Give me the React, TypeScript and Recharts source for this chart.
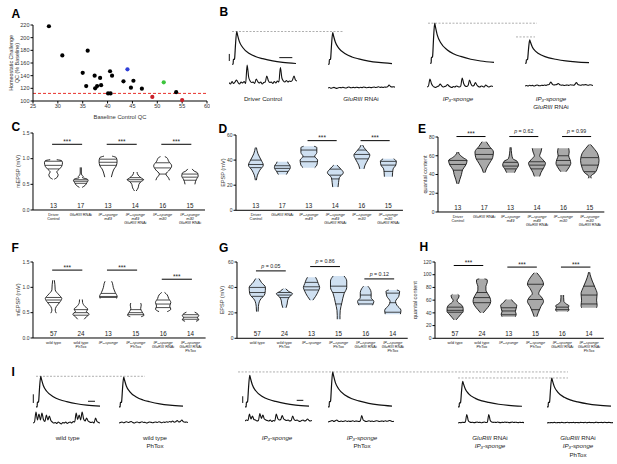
import React from 'react';
import {
  ScatterChart,
  Scatter,
  LineChart,
  Line,
  ComposedChart,
  Area,
  XAxis,
  YAxis,
  ReferenceLine,
} from 'recharts';

const FONT = '"Liberation Sans", Arial, Helvetica, sans-serif';
const INK = '#222';

/* ---------------- A: homeostatic challenge vs baseline QC ---------------- */
const qcBlack = [
  { base: 28.2, challenge: 218 },
  { base: 30.9, challenge: 172 },
  { base: 36.0, challenge: 179.5 },
  { base: 35.0, challenge: 144.5 },
  { base: 35.7, challenge: 123.5 },
  { base: 37.4, challenge: 140 },
  { base: 37.5, challenge: 120 },
  { base: 37.9, challenge: 123.5 },
  { base: 38.5, challenge: 136.5 },
  { base: 38.7, challenge: 125 },
  { base: 40.5, challenge: 147 },
  { base: 40.9, challenge: 140 },
  { base: 40.1, challenge: 112 },
  { base: 40.6, challenge: 112 },
  { base: 43.2, challenge: 131 },
  { base: 45.2, challenge: 132 },
  { base: 44.7, challenge: 121 },
  { base: 46.9, challenge: 119.5 },
  { base: 53.8, challenge: 114 },
];
const qcBlue = [{ base: 44.0, challenge: 150 }];
const qcGreen = [{ base: 51.3, challenge: 129.5 }];
const qcRed = [
  { base: 49.0, challenge: 106.5 },
  { base: 55.0, challenge: 101.5 },
];
const qcThreshold = 112;
const qcXTicks = [25, 30, 35, 40, 45, 50, 55, 60];
const qcYTicks = [100, 120, 140, 160, 180, 200, 220];

/* ---------------- violin panels C-H ---------------- */
type Violin = { shape: [number, number][]; lines: number[] };
type Sig = { from: number; to: number; at: number; text: string };

const catsRow1 = [
  ['Driver', 'Control'],
  ['GluRIII RNAi'],
  ['IP₃-sponge', 'm49'],
  ['IP₃-sponge', 'm49', 'GluRIII RNAi'],
  ['IP₃-sponge', 'm30'],
  ['IP₃-sponge', 'm30', 'GluRIII RNAi'],
];
const catsRow2 = [
  ['wild type'],
  ['wild type', 'PhTox'],
  ['IP₃-sponge'],
  ['IP₃-sponge', 'PhTox'],
  ['IP₃-sponge', 'GluRIII RNAi'],
  ['IP₃-sponge', 'GluRIII RNAi', 'PhTox'],
];
const countsRow1 = [13, 17, 13, 14, 16, 15];
const countsRow2 = [57, 24, 13, 15, 16, 14];

// shape: [value, half width in category units]
const mepspRow1: Violin[] = [
  { shape: [[0.6, 0.03], [0.64, 0.14], [0.69, 0.17], [0.74, 0.12], [0.79, 0.2], [0.85, 0.3], [0.92, 0.33], [0.96, 0.3], [0.98, 0.12]], lines: [0.8, 0.87, 0.95] },
  { shape: [[0.44, 0.05], [0.48, 0.16], [0.53, 0.22], [0.58, 0.27], [0.61, 0.2], [0.63, 0.06], [0.65, 0.09], [0.68, 0.04], [0.72, 0.02], [0.83, 0.02]], lines: [0.52, 0.56, 0.59] },
  { shape: [[0.64, 0.12], [0.72, 0.16], [0.8, 0.22], [0.86, 0.3], [0.95, 0.33], [1.02, 0.3], [1.05, 0.15]], lines: [0.87, 0.93, 0.99] },
  { shape: [[0.37, 0.03], [0.43, 0.1], [0.5, 0.13], [0.55, 0.2], [0.59, 0.3], [0.63, 0.2], [0.68, 0.1], [0.74, 0.06]], lines: [0.55, 0.59, 0.63] },
  { shape: [[0.58, 0.25], [0.62, 0.22], [0.7, 0.12], [0.78, 0.25], [0.86, 0.33], [0.95, 0.22], [1.02, 0.15], [1.04, 0.08]], lines: [0.7, 0.82, 0.92] },
  { shape: [[0.5, 0.18], [0.55, 0.2], [0.6, 0.24], [0.66, 0.3], [0.72, 0.28], [0.76, 0.15], [0.8, 0.08]], lines: [0.58, 0.64, 0.7] },
];
const epspRow1: Violin[] = [
  { shape: [[24, 0.02], [28, 0.06], [32, 0.15], [36, 0.28], [40, 0.2], [45, 0.08], [50, 0.02]], lines: [34, 36.5, 40] },
  { shape: [[28.5, 0.15], [31, 0.22], [34, 0.3], [36, 0.28], [37.5, 0.22], [38.7, 0.2]], lines: [31, 33.4, 35.5] },
  { shape: [[34, 0.22], [36, 0.3], [40, 0.33], [43, 0.22], [46, 0.3], [50, 0.3], [51, 0.2]], lines: [38.7, 42.6, 48] },
  { shape: [[18.5, 0.1], [22, 0.12], [26, 0.15], [30, 0.3], [33, 0.2], [36, 0.06]], lines: [25, 28, 32.8] },
  { shape: [[33, 0.08], [36, 0.12], [40, 0.22], [44, 0.3], [47, 0.2], [50, 0.08], [52, 0.03]], lines: [41, 44.5, 48] },
  { shape: [[26.8, 0.15], [30, 0.16], [33, 0.18], [36, 0.28], [39, 0.3], [41, 0.2]], lines: [31, 36, 39] },
];
const qcRow1: Violin[] = [
  { shape: [[30, 0.03], [35, 0.08], [40, 0.14], [45, 0.18], [50, 0.3], [55, 0.35], [58, 0.2], [62, 0.05], [64, 0.03]], lines: [44.6, 50.7, 55] },
  { shape: [[42, 0.03], [46, 0.08], [52, 0.2], [58, 0.32], [64, 0.35], [70, 0.2], [75, 0.08]], lines: [56.4, 61.4, 67.8] },
  { shape: [[42, 0.15], [45, 0.2], [50, 0.3], [54, 0.25], [57, 0.08], [62, 0.04], [69, 0.02]], lines: [46, 49, 53] },
  { shape: [[38, 0.1], [42, 0.15], [47, 0.25], [52, 0.32], [57, 0.18], [60, 0.1], [64, 0.15], [68, 0.18]], lines: [46, 50, 53.6] },
  { shape: [[43, 0.1], [47, 0.2], [52, 0.28], [56, 0.25], [60, 0.2], [64, 0.22], [68, 0.2]], lines: [50, 55, 60] },
  { shape: [[36, 0.06], [38, 0.04], [42, 0.2], [48, 0.3], [55, 0.35], [62, 0.3], [68, 0.15], [72, 0.03]], lines: [43, 50, 58] },
];
const mepspRow2: Violin[] = [
  { shape: [[0.49, 0.1], [0.55, 0.06], [0.62, 0.1], [0.7, 0.22], [0.78, 0.3], [0.85, 0.2], [0.95, 0.06], [1.05, 0.05], [1.14, 0.03]], lines: [0.7, 0.75, 0.8] },
  { shape: [[0.37, 0.12], [0.42, 0.2], [0.47, 0.3], [0.52, 0.2], [0.57, 0.25], [0.62, 0.15], [0.7, 0.06], [0.76, 0.05]], lines: [0.45, 0.5, 0.56] },
  { shape: [[0.78, 0.3], [0.82, 0.32], [0.9, 0.25], [1.0, 0.18], [1.08, 0.15], [1.12, 0.12]], lines: [0.8, 0.82, 0.88] },
  { shape: [[0.42, 0.2], [0.45, 0.3], [0.5, 0.25], [0.58, 0.18], [0.65, 0.2], [0.69, 0.18]], lines: [0.46, 0.5, 0.56] },
  { shape: [[0.52, 0.15], [0.57, 0.28], [0.63, 0.24], [0.7, 0.28], [0.78, 0.2], [0.85, 0.15], [0.9, 0.05]], lines: [0.6, 0.67, 0.75] },
  { shape: [[0.33, 0.2], [0.36, 0.3], [0.4, 0.25], [0.44, 0.3], [0.48, 0.25], [0.51, 0.15]], lines: [0.37, 0.41, 0.46] },
];
const epspRow2: Violin[] = [
  { shape: [[21, 0.03], [25, 0.04], [30, 0.1], [35, 0.28], [40, 0.3], [44, 0.15], [47, 0.06]], lines: [33, 36, 40] },
  { shape: [[24, 0.06], [27, 0.1], [30, 0.12], [33, 0.2], [35, 0.3], [37, 0.15], [39, 0.05]], lines: [32, 34, 36] },
  { shape: [[30, 0.05], [33, 0.15], [37, 0.25], [40, 0.3], [43, 0.25], [46, 0.2], [48, 0.15]], lines: [38, 40.5, 44] },
  { shape: [[15, 0.05], [18, 0.05], [22, 0.06], [28, 0.12], [35, 0.2], [40, 0.3], [45, 0.3], [49, 0.2]], lines: [27, 36, 41] },
  { shape: [[26, 0.25], [29, 0.3], [32, 0.2], [36, 0.2], [39, 0.15], [41, 0.08]], lines: [27, 30, 34] },
  { shape: [[19, 0.28], [22, 0.3], [26, 0.15], [29, 0.1], [33, 0.22], [37, 0.25], [38, 0.15]], lines: [20.5, 28, 35.5] },
];
const qcRow2: Violin[] = [
  { shape: [[29, 0.04], [33, 0.12], [38, 0.22], [42, 0.3], [47, 0.3], [52, 0.25], [57, 0.1], [60, 0.07], [63, 0.12], [67, 0.15], [69, 0.1]], lines: [41, 44, 49] },
  { shape: [[40, 0.05], [45, 0.15], [52, 0.28], [58, 0.33], [64, 0.3], [70, 0.22], [76, 0.15], [82, 0.15], [88, 0.2], [92, 0.2], [93.5, 0.1]], lines: [56, 64, 72] },
  { shape: [[34, 0.25], [38, 0.28], [42, 0.25], [47, 0.28], [52, 0.3], [56, 0.2], [61, 0.1]], lines: [37, 43, 48] },
  { shape: [[34, 0.05], [40, 0.1], [50, 0.2], [58, 0.3], [65, 0.22], [70, 0.12], [78, 0.2], [85, 0.3], [95, 0.2], [103, 0.05]], lines: [45, 61, 85] },
  { shape: [[42, 0.2], [45, 0.25], [48, 0.22], [51, 0.25], [54, 0.15], [58, 0.06], [64, 0.05], [68, 0.05]], lines: [45, 49] },
  { shape: [[48, 0.28], [52, 0.3], [60, 0.28], [70, 0.3], [80, 0.22], [90, 0.12], [100, 0.04], [104, 0.02]], lines: [54, 68, 82] },
];

const sigC: Sig[] = [
  { from: 0, to: 1, at: 1.28, text: '***' },
  { from: 2, to: 3, at: 1.28, text: '***' },
  { from: 4, to: 5, at: 1.28, text: '***' },
];
const sigD: Sig[] = [
  { from: 2, to: 3, at: 55.5, text: '***' },
  { from: 4, to: 5, at: 55.5, text: '***' },
];
const sigE: Sig[] = [
  { from: 0, to: 1, at: 80.5, text: '***' },
  { from: 2, to: 3, at: 80.5, text: 'p = 0.62' },
  { from: 4, to: 5, at: 80.5, text: 'p = 0.99' },
];
const sigF: Sig[] = [
  { from: 0, to: 1, at: 1.34, text: '***' },
  { from: 2, to: 3, at: 1.34, text: '***' },
  { from: 4, to: 5, at: 1.16, text: '***' },
];
const sigG: Sig[] = [
  { from: 0, to: 1, at: 53, text: 'p = 0.05' },
  { from: 2, to: 3, at: 56.4, text: 'p = 0.86' },
  { from: 4, to: 5, at: 46.7, text: 'p = 0.12' },
];
const sigH: Sig[] = [
  { from: 0, to: 1, at: 114.5, text: '***' },
  { from: 2, to: 3, at: 112, text: '***' },
  { from: 4, to: 5, at: 112, text: '***' },
];

const mepspTicks = [0, 0.5, 1.0, 1.5];
const epspTicks = [0, 20, 40, 60];
const qcTicksRow1 = [0, 20, 40, 60, 80];
const qcTicksRow2 = [0, 20, 40, 60, 80, 100, 120];

/* ---------------- traces B and I ---------------- */
const epspTimes = [0, 1.2, 1.3, 2.5, 2.7, 3.5, 4.7, 5.5, 7.3, 10.7, 17.3, 24, 30.7, 40.7, 50.7, 64];
const epspShape = [0, 0, 0.15, 0.15, 0.2, 0.6, 1, 0.9, 0.7, 0.51, 0.33, 0.23, 0.17, 0.1, 0.056, 0.022];

const epspAmpB = [37.2, 36.0, 45.5, 26.5];
const bShortDash = 29.9;
const epspAmpI = [35.9, 35.0, 37.0, 41.0, 30.0, 33.9];

const miniDriver = [0.05, -0.1, 0.15, -0.05, 0.1, 0.3, 0.05, -0.1, 0.1, 0, 0.15, -0.05, 1.8, 0.6, 0.2, 0.05, 0.1, -0.05, 0.4, 0.15, 0, 0.1, -0.1, 0.05, 0.1, 0.7, 0.25, 0.05, 0.1, -0.05, 0.15, 0, 0.2, 0.1, 1.55, 0.5, 0.2, 0.1, 0.25, 0.1, 0.2, 0.15, 0.3, 0.7, 0.3, 0.2];
const miniGluRIII = [0, 0.05, -0.03, 0.02, 0.06, 0, -0.04, 0.03, 0.05, 0.02, 0.08, 0.03, 0, 0.05, 0.1, 0.04, 0.02, 0.06, 0.03, 0.08, 0.05, 0.02, 0.07, 0.04, 0.1, 0.06, 0.03, 0.05, 0.08, 0.04, 0.07, 0.1, 0.05, 0.08, 0.12, 0.06, 0.09, 0.05, 0.1, 0.08, 0.12, 0.3, 0.15, 0.1, 0.12, 0.08];
const miniSponge = [0, 0.1, 0.8, 0.35, 0.1, 0, -0.05, 0.05, 0.1, 0.3, 0.12, 0, 0.05, 0.1, 0.25, 0.1, 0, -0.05, 0.05, 0, 0.1, 0.05, 0, 0.1, 0.9, 0.35, 0.1, 0.05, 0.15, 0.7, 0.3, 0.1, 0.15, 0.45, 0.2, 0.05, 0, 0.1, 0.05, 0, 0.2, 0.1, 0, 0.05, 0.1, 0.05];
const miniSpongeGluRIII = [0, 0.05, 0, 0.08, 0.03, 0.06, 0, 0.05, 0.1, 0.04, 0.02, 0.07, 0.05, 0.1, 0.06, 0.12, 0.15, 0.4, 0.2, 0.1, 0.12, 0.15, 0.25, 0.12, 0.08, 0.1, 0.05, 0.08, 0.1, 0.06, 0.12, 0.1, 0.08, 0.15, 0.35, 0.15, 0.1, 0.08, 0.12, 0.1, 0.14, 0.1, 0.08, 0.12, 0.1, 0.05];

const miniWildType = [0, 0.1, 1.1, 0.3, 0.9, 0.3, 1.0, 0.35, 0.15, 0.8, 0.3, 0.7, 0.25, 0.1, 0, 0.05, -0.05, 0.1, 0, -0.1, 0.05, 0, 0.1, -0.05, 0.05, 0.1, 0, 0.15, 0.1, 1.0, 0.35, 0.8, 0.3, 1.1, 0.4, 0.2, 0.5, 0.2, 0.1, 0.05, 0.1, 0, 0.5, 0.15, 0.05, 0];
const miniWildTypePhTox = [0, 0.05, 0.1, 0.02, 0.08, 0.12, 0.05, 0.1, 0.15, 0.05, 0, 0.08, 0.1, 0.03, 0.06, 0.12, 0.05, 0.08, 0, 0.05, 0.1, 0.06, 0.02, 0.08, 0.1, 0.05, 0.12, 0.08, 0.03, 0.1, 0.06, 0.12, 0.08, 0.15, 0.1, 0.2, 0.08, 0.12, 0.25, 0.1, 0.15, 0.3, 0.12, 0.08, 0.1, 0.05];
const miniSpongeI = [0, 0.1, 0.05, 0.7, 0.2, 0.5, 0.15, 0.1, 0, 0.05, 0.75, 0.25, 0.6, 0.2, 0.1, 0.05, 0, 0.1, -0.05, 0.05, 0, 0.7, 0.25, 0.1, 0.15, 0.55, 0.2, 0.1, 0.05, 0.1, 0, 0.05, 0.5, 0.15, 0.05, 0.1, 0, -0.05, 0.05, 0.1, 0, 0.05, 0.2, 0.05, 0, 0.05];
const miniSpongePhTox = [0, 0.05, 0.1, 0.15, 0.05, 0.12, 0.2, 0.08, 0.05, 0.1, 0.05, 0.08, 0.12, 0.05, 0.1, 0.06, 0.08, 0.12, 0.05, 0.1, 0.08, 0.05, 0.1, 0.65, 0.2, 0.1, 0.05, 0.08, 0.12, 0.06, 0.1, 0.05, 0.08, 0.12, 0.1, 0.05, 0.08, 0.1, 0.06, 0.12, 0.08, 0.1, 0.15, 0.1, 0.05, 0.08];
const miniGluRIIISponge = [0, 0.05, 0.02, 0.08, 0.05, 0.1, 0.85, 0.25, 0.1, 0.05, 0.08, 0.04, 0.06, 0.1, 0.05, 0.08, 0.03, 0.06, 0.1, 0.05, 0.08, 0.85, 0.25, 0.1, 0.06, 0.08, 0.05, 0.1, 0.06, 0.04, 0.08, 0.05, 0.1, 0.06, 0.08, 0.04, 0.06, 0.1, 0.05, 0.08, 0.06, 0.04, 0.08, 0.05, 0.06, 0.04];
const miniGluRIIISpongePhTox = [0, 0.04, 0.02, 0.05, 0.03, 0.06, 0.02, 0.04, 0.05, 0.03, 0.06, 0.04, 0.02, 0.05, 0.07, 0.03, 0.05, 0.04, 0.06, 0.02, 0.05, 0.04, 0.03, 0.06, 0.05, 0.04, 0.07, 0.03, 0.05, 0.06, 0.04, 0.05, 0.03, 0.06, 0.08, 0.04, 0.05, 0.06, 0.04, 0.07, 0.05, 0.04, 0.06, 0.05, 0.03, 0.04];

/* ---------------- helpers ---------------- */
const ITALIC = new Set(['IP₃-sponge', 'GluRIII', 'm49', 'm30']);
function rich(line: string) {
  return line.split(' ').map((w, k) => (
    <tspan key={k} fontStyle={ITALIC.has(w) ? 'italic' : 'normal'}>
      {(k ? ' ' : '') + w}
    </tspan>
  ));
}

function widthAt(shape: [number, number][], y: number) {
  for (let k = 0; k < shape.length - 1; k++) {
    const [y0, w0] = shape[k];
    const [y1, w1] = shape[k + 1];
    if (y >= y0 && y <= y1) return w0 + ((w1 - w0) * (y - y0)) / (y1 - y0);
  }
  return shape[shape.length - 1][1];
}

const axisTitle = (lines: string[], dx: number, size: number) => (props: any) => {
  const vb = props.viewBox || { x: 0, y: 0, width: 0, height: 0 };
  const cx = vb.x + dx;
  const cy = vb.y + vb.height / 2;
  return (
    <text transform={`translate(${cx},${cy}) rotate(-90)`} textAnchor="middle" fontSize={size} fill="#333">
      {lines.map((l, i) => (
        <tspan key={i} x={0} y={(i - (lines.length - 1) / 2) * size * 1.2} dominantBaseline="central">
          {l}
        </tspan>
      ))}
    </text>
  );
};

function SigText(props: any) {
  const vb = props.viewBox || {};
  const cx = (vb.x ?? 0) + (vb.width ?? 0) / 2;
  const y = vb.y ?? 0;
  const text: string = props.text;
  if (text.startsWith('p')) {
    return (
      <text x={cx} y={y - 3.2} textAnchor="middle" fontSize={5.3} fill={INK}>
        <tspan fontStyle="italic">p</tspan>
        {text.slice(1)}
      </text>
    );
  }
  return (
    <text x={cx} y={y - 0.4} textAnchor="middle" fontSize={6.5} fill={INK}>
      {text}
    </text>
  );
}

function CatTick({ x, y, payload, counts, cats }: any) {
  const i = Math.round(payload?.value ?? 0);
  if (!cats[i]) return null;
  return (
    <g>
      <text x={x} y={y - 2} textAnchor="middle" fontSize={6.3} fill={INK}>
        {counts[i]}
      </text>
      {cats[i].map((line: string, k: number) => (
        <text key={k} x={x} y={y + 5.6 + k * 4.1} textAnchor="middle" fontSize={3.9} fill={INK}>
          {rich(line)}
        </text>
      ))}
    </g>
  );
}

const CAT_DOMAIN: [number, number] = [-0.75, 5.55];
const Y_W = 24;
const M_TOP = 14;
const X_H = 18;
const M_RIGHT = 2;

type Box = { axisX: number; top: number; bottom: number; step: number };

function ViolinPanel(props: {
  box: Box;
  violins: Violin[];
  fill: string;
  domain: [number, number];
  ticks: number[];
  fmt?: (v: number) => string;
  label: string;
  labelDx: number;
  counts: number[];
  cats: string[][];
  sigs: Sig[];
}) {
  const { box, violins, fill, domain, ticks, fmt, label, labelDx, counts, cats, sigs } = props;
  const plotW = box.step * (CAT_DOMAIN[1] - CAT_DOMAIN[0]);
  const width = Y_W + plotW + M_RIGHT;
  const height = M_TOP + (box.bottom - box.top) + X_H;
  return (
    <div style={{ position: 'absolute', left: box.axisX - Y_W, top: box.top - M_TOP }}>
      <ComposedChart
        layout="vertical"
        width={width}
        height={height}
        margin={{ top: M_TOP, right: M_RIGHT, bottom: 0, left: 0 }}
      >
        <XAxis
          type="number"
          domain={CAT_DOMAIN}
          ticks={[0, 1, 2, 3, 4, 5]}
          interval={0}
          allowDataOverflow
          height={X_H}
          stroke="#000"
          tickLine={false}
          tickSize={0}
          tickMargin={0}
          tick={(p: any) => <CatTick {...p} counts={counts} cats={cats} />}
        />
        <YAxis
          type="number"
          dataKey="y"
          reversed
          domain={domain}
          ticks={ticks}
          interval={0}
          allowDataOverflow
          width={Y_W}
          stroke="#000"
          tickSize={2.5}
          tickMargin={1}
          tick={{ fontSize: 5, fill: '#333' }}
          tickFormatter={fmt}
          label={{ content: axisTitle([label], labelDx, 5.6) }}
        />
        {violins.map((v, i) => (
          <Area
            key={`v${i}`}
            data={v.shape.map(([y, w]) => ({ y, span: [i - w, i + w] }))}
            dataKey="span"
            type="monotone"
            fill={fill}
            fillOpacity={1}
            stroke="#111"
            strokeWidth={0.9}
            dot={false}
            activeDot={false}
            isAnimationActive={false}
          />
        ))}
        {violins.flatMap((v, i) =>
          v.lines.map((q, k) => {
            const w = widthAt(v.shape, q);
            return (
              <ReferenceLine
                key={`q${i}-${k}`}
                segment={[
                  { x: i - w, y: q },
                  { x: i + w, y: q },
                ]}
                stroke="#111"
                strokeWidth={0.75}
                ifOverflow="visible"
              />
            );
          }),
        )}
        {sigs.map((s, k) => (
          <ReferenceLine
            key={`s${k}`}
            segment={[
              { x: s.from - 0.05, y: s.at },
              { x: s.to + 0.05, y: s.at },
            ]}
            stroke="#000"
            strokeWidth={1}
            ifOverflow="visible"
            label={<SigText text={s.text} />}
          />
        ))}
      </ComposedChart>
    </div>
  );
}

const epspRows = (amp: number) => epspTimes.map((t, k) => ({ t, v: epspShape[k] * amp }));
const miniRows = (vals: number[]) => vals.map((v, k) => ({ t: k, v }));

function Trace(props: {
  left: number;
  top: number;
  width: number;
  height: number;
  xDomain: [number, number];
  yDomain: [number, number];
  data: { t: number; v: number }[];
  strokeWidth: number;
  children?: React.ReactNode;
}) {
  const { left, top, width, height, xDomain, yDomain, data, strokeWidth, children } = props;
  return (
    <div style={{ position: 'absolute', left, top }}>
      <LineChart width={width} height={height} data={data} margin={{ top: 0, right: 0, bottom: 0, left: 0 }}>
        <XAxis type="number" dataKey="t" domain={xDomain} hide allowDataOverflow />
        <YAxis type="number" domain={yDomain} hide allowDataOverflow />
        {children}
        <Line
          dataKey="v"
          type="monotone"
          stroke="#111"
          strokeWidth={strokeWidth}
          dot={false}
          activeDot={false}
          isAnimationActive={false}
        />
      </LineChart>
    </div>
  );
}

const EPSP_Y: [number, number] = [-3, 48];
const MINI_X: [number, number] = [0, 45];
const dash = (y: number, x0: number, x1: number, key: string) => (
  <ReferenceLine
    key={key}
    segment={[
      { x: x0, y },
      { x: x1, y },
    ]}
    stroke="#9a9a9a"
    strokeWidth={0.8}
    strokeDasharray="2 1.5"
    ifOverflow="visible"
  />
);
const bar = (x0: number, y0: number, x1: number, y1: number, key: string) => (
  <ReferenceLine
    key={key}
    segment={[
      { x: x0, y: y0 },
      { x: x1, y: y1 },
    ]}
    stroke="#111"
    strokeWidth={1}
    ifOverflow="visible"
  />
);

function EpspTrace({ start, base, xDomain, amp, pxPerMv, children }: any) {
  return (
    <Trace
      left={start + xDomain[0]}
      top={base - EPSP_Y[1] * pxPerMv}
      width={xDomain[1] - xDomain[0]}
      height={(EPSP_Y[1] - EPSP_Y[0]) * pxPerMv}
      xDomain={xDomain}
      yDomain={EPSP_Y}
      data={epspRows(amp)}
      strokeWidth={1.2}
    >
      {children}
    </Trace>
  );
}

function MiniTrace({ left, base, width, vals, yDomain }: any) {
  return (
    <Trace
      left={left}
      top={base - yDomain[1] * 10}
      width={width}
      height={(yDomain[1] - yDomain[0]) * 10}
      xDomain={MINI_X}
      yDomain={yDomain}
      data={miniRows(vals)}
      strokeWidth={1.1}
    />
  );
}

const B_PX = 0.88;
const I_PX = 0.85;
const MINI_B: [number, number] = [-0.5, 2.2];
const MINI_I: [number, number] = [-0.5, 1.5];

const letters = [
  { t: 'A', x: 11.5, y: 17.5 },
  { t: 'B', x: 219.5, y: 15.5 },
  { t: 'C', x: 11.5, y: 131 },
  { t: 'D', x: 218.5, y: 133 },
  { t: 'E', x: 418, y: 133 },
  { t: 'F', x: 11.5, y: 251.7 },
  { t: 'G', x: 219, y: 251.7 },
  { t: 'H', x: 419.5, y: 251 },
  { t: 'I', x: 11.5, y: 376 },
];
const traceLabels = [
  { x: 263, y: 101, lines: ['Driver Control'] },
  { x: 361, y: 101, lines: ['GluRIII RNAi'] },
  { x: 458, y: 101, lines: ['IP₃-sponge'] },
  { x: 551, y: 101, lines: ['IP₃-sponge', 'GluRIII RNAi'] },
  { x: 67.7, y: 440, lines: ['wild type'] },
  { x: 155, y: 440, lines: ['wild type', 'PhTox'] },
  { x: 277, y: 440, lines: ['IP₃-sponge'] },
  { x: 362, y: 440, lines: ['IP₃-sponge', 'PhTox'] },
  { x: 490, y: 440, lines: ['GluRIII RNAi', 'IP₃-sponge'] },
  { x: 578, y: 440, lines: ['GluRIII RNAi', 'IP₃-sponge', 'PhTox'] },
];

const dot = (fill: string) => (p: any) => <circle cx={p.cx} cy={p.cy} r={2.1} fill={fill} />;

export default function App() {
  return (
    <div
      style={{
        position: 'absolute',
        left: 0,
        top: 0,
        width: 617,
        height: 464,
        background: '#fff',
        fontFamily: FONT,
        overflow: 'hidden',
      }}
    >
      {/* A */}
      <div style={{ position: 'absolute', left: 7, top: 20 }}>
        <ScatterChart width={203} height={101} margin={{ top: 5, right: 3, bottom: 0, left: 0 }}>
          <XAxis
            type="number"
            dataKey="base"
            domain={[25, 60]}
            ticks={qcXTicks}
            interval={0}
            tickSize={2.5}
            tickMargin={1}
            height={20}
            stroke="#000"
            tick={{ fontSize: 5.5, fill: '#333' }}
            label={{ value: 'Baseline Control QC', position: 'insideBottom', offset: 1.7, fontSize: 5.8, fill: '#333' }}
          />
          <YAxis
            type="number"
            dataKey="challenge"
            domain={[100, 220]}
            ticks={qcYTicks}
            interval={0}
            width={26}
            tickSize={2.5}
            tickMargin={1}
            stroke="#000"
            tick={{ fontSize: 5.5, fill: '#333' }}
            label={{ content: axisTitle(['Homeostatic Challenge', 'QC (% Baseline)'], 6.75, 5.4) }}
          />
          <ReferenceLine y={qcThreshold} stroke="#e8322c" strokeWidth={1} strokeDasharray="3 2" />
          <Scatter data={qcBlack} shape={dot('#000')} isAnimationActive={false} />
          <Scatter data={qcBlue} shape={dot('#2f3fd8')} isAnimationActive={false} />
          <Scatter data={qcGreen} shape={dot('#3cc43c')} isAnimationActive={false} />
          <Scatter data={qcRed} shape={dot('#c8202a')} isAnimationActive={false} />
        </ScatterChart>
      </div>

      {/* B traces */}
      <EpspTrace start={231.7} base={64.3} xDomain={[-4, 112]} amp={epspAmpB[0]} pxPerMv={B_PX}>
        {[
          dash(epspAmpB[0], 0, 112, 'd'),
          bar(-2.7, 3.7, -2.7, 11.7, 'v'),
          bar(47.3, 7.5, 60.3, 7.5, 'h'),
        ]}
      </EpspTrace>
      <EpspTrace start={328} base={64} xDomain={[0, 68]} amp={epspAmpB[1]} pxPerMv={B_PX} />
      <EpspTrace start={430} base={63.3} xDomain={[-2, 107]} amp={epspAmpB[2]} pxPerMv={B_PX}>
        {[dash(epspAmpB[2], -2, 107, 'd')]}
      </EpspTrace>
      <EpspTrace start={525} base={63.3} xDomain={[-9, 68]} amp={epspAmpB[3]} pxPerMv={B_PX}>
        {[dash(bShortDash, -9, 10, 'd')]}
      </EpspTrace>
      <MiniTrace left={229} base={83.3} width={68} vals={miniDriver} yDomain={MINI_B} />
      <MiniTrace left={328} base={88} width={67} vals={miniGluRIII} yDomain={MINI_B} />
      <MiniTrace left={427} base={86.5} width={66} vals={miniSponge} yDomain={MINI_B} />
      <MiniTrace left={525} base={85.5} width={68} vals={miniSpongeGluRIII} yDomain={MINI_B} />

      {/* C D E */}
      <ViolinPanel
        box={{ axisX: 33, top: 133.3, bottom: 210.3, step: 27.3 }}
        violins={mepspRow1}
        fill="#ffffff"
        domain={[0, 1.5]}
        ticks={mepspTicks}
        fmt={(v) => v.toFixed(1)}
        label="mEPSP (mV)"
        labelDx={9.3}
        counts={countsRow1}
        cats={catsRow1}
        sigs={sigC}
      />
      <ViolinPanel
        box={{ axisX: 236, top: 135, bottom: 210.3, step: 26.5 }}
        violins={epspRow1}
        fill="#cfe0f1"
        domain={[0, 60]}
        ticks={epspTicks}
        label="EPSP (mV)"
        labelDx={10.7}
        counts={countsRow1}
        cats={catsRow1}
        sigs={sigD}
      />
      <ViolinPanel
        box={{ axisX: 438.3, top: 136.7, bottom: 211.7, step: 26.4 }}
        violins={qcRow1}
        fill="#a9a9a9"
        domain={[0, 80]}
        ticks={qcTicksRow1}
        label="quantal content"
        labelDx={11.4}
        counts={countsRow1}
        cats={catsRow1}
        sigs={sigE}
      />

      {/* F G H */}
      <ViolinPanel
        box={{ axisX: 33, top: 262.3, bottom: 338.3, step: 27.4 }}
        violins={mepspRow2}
        fill="#ffffff"
        domain={[0, 1.5]}
        ticks={mepspTicks}
        fmt={(v) => v.toFixed(1)}
        label="mEPSP (mV)"
        labelDx={9.3}
        counts={countsRow2}
        cats={catsRow2}
        sigs={sigF}
      />
      <ViolinPanel
        box={{ axisX: 237.3, top: 262, bottom: 338.3, step: 27.1 }}
        violins={epspRow2}
        fill="#cfe0f1"
        domain={[0, 60]}
        ticks={epspTicks}
        label="EPSP (mV)"
        labelDx={9.4}
        counts={countsRow2}
        cats={catsRow2}
        sigs={sigG}
      />
      <ViolinPanel
        box={{ axisX: 435, top: 262, bottom: 338.3, step: 26.8 }}
        violins={qcRow2}
        fill="#a9a9a9"
        domain={[0, 120]}
        ticks={qcTicksRow2}
        label="quantal content"
        labelDx={4.5}
        counts={countsRow2}
        cats={catsRow2}
        sigs={sigH}
      />

      {/* I traces */}
      <EpspTrace start={36} base={406.5} xDomain={[-4, 109]} amp={epspAmpI[0]} pxPerMv={I_PX}>
        {[
          dash(epspAmpI[0], 0, 109, 'd'),
          bar(-2.7, 4.5, -2.7, 14.7, 'v'),
          bar(52, 6.5, 59, 6.5, 'h'),
        ]}
      </EpspTrace>
      <EpspTrace start={119.3} base={406.5} xDomain={[0, 69]} amp={epspAmpI[1]} pxPerMv={I_PX} />
      <EpspTrace start={245} base={406.5} xDomain={[-7, 323]} amp={epspAmpI[2]} pxPerMv={I_PX}>
        {[
          dash(epspAmpI[3], -7, 323, 'd'),
          bar(-2.3, 4.5, -2.3, 12.4, 'v'),
          bar(51.7, 7.6, 58.3, 7.6, 'h'),
        ]}
      </EpspTrace>
      <EpspTrace start={327.7} base={406.5} xDomain={[0, 69]} amp={epspAmpI[3]} pxPerMv={I_PX} />
      <EpspTrace start={458.3} base={406.5} xDomain={[0, 110]} amp={epspAmpI[4]} pxPerMv={I_PX}>
        {[dash(epspAmpI[5], 0, 110, 'd')]}
      </EpspTrace>
      <EpspTrace start={546.7} base={406.5} xDomain={[0, 66]} amp={epspAmpI[5]} pxPerMv={I_PX} />
      <MiniTrace left={33} base={422.7} width={67} vals={miniWildType} yDomain={MINI_I} />
      <MiniTrace left={119.3} base={423} width={69} vals={miniWildTypePhTox} yDomain={MINI_I} />
      <MiniTrace left={245} base={420.5} width={67} vals={miniSpongeI} yDomain={MINI_I} />
      <MiniTrace left={327.7} base={421.7} width={66} vals={miniSpongePhTox} yDomain={MINI_I} />
      <MiniTrace left={458.3} base={423.3} width={66} vals={miniGluRIIISponge} yDomain={MINI_I} />
      <MiniTrace left={546.7} base={423.3} width={66} vals={miniGluRIIISpongePhTox} yDomain={MINI_I} />

      {/* panel letters and trace captions */}
      <svg
        width={617}
        height={464}
        style={{ position: 'absolute', left: 0, top: 0, pointerEvents: 'none' }}
      >
        {letters.map((l) => (
          <text key={l.t} x={l.x} y={l.y} fontSize={12} fontWeight="bold" fill="#000">
            {l.t}
          </text>
        ))}
        {traceLabels.map((lab, i) =>
          lab.lines.map((line, k) => (
            <text key={`${i}-${k}`} x={lab.x} y={lab.y + k * 8.3} textAnchor="middle" fontSize={6.2} fill={INK}>
              {rich(line)}
            </text>
          )),
        )}
      </svg>
    </div>
  );
}
